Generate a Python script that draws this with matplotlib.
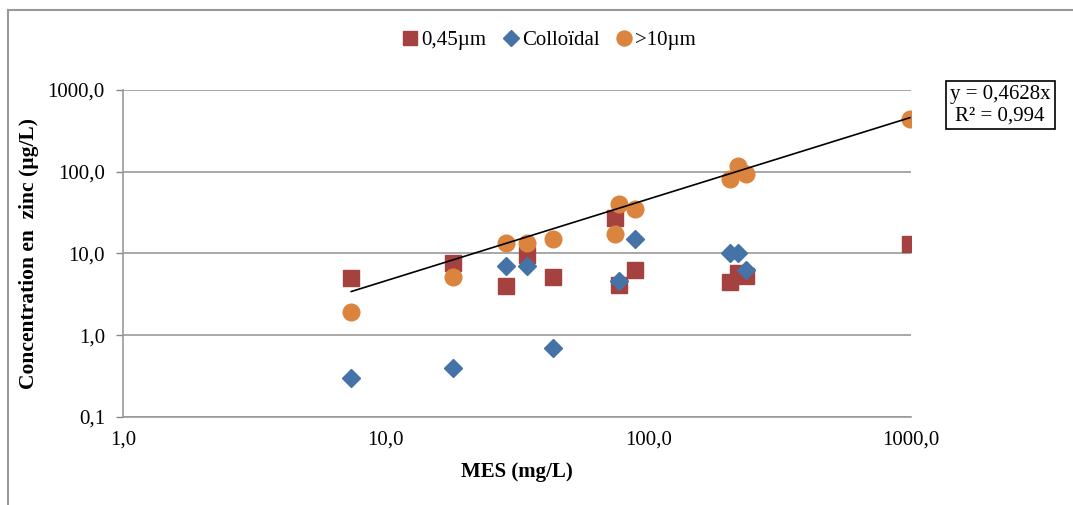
import matplotlib.pyplot as plt
from matplotlib.lines import Line2D
from matplotlib.ticker import FuncFormatter, NullLocator
import numpy as np

plt.rcParams['font.family'] = ['Liberation Serif', 'DejaVu Serif']

# MES (mg/L) for each sample
mes = [7.4, 18.0, 28.7, 34.5, 43.3, 74.6, 77.3, 89.0, 204, 219, 235, 990]
# zinc concentration (ug/L) per fraction
zn_045 = [5.0, 7.7, 4.0, 9.5, 5.2, 27.0, 4.1, 6.3, 4.5, 5.7, 5.3, 13.0]
zn_coll = [0.3, 0.4, 7.0, 7.1, 0.7, np.nan, 4.6, 15.0, 10.0, 10.0, 6.3, np.nan]
zn_10 = [1.9, 5.1, 13.5, 13.5, 15.0, 17.2, 40.0, 35.0, 81, 117, 93.5, 440]
slope = 0.4628
r2 = 0.994

fig = plt.figure(figsize=(10.73, 5.05), dpi=100)
ax = fig.add_axes([0.1146, 0.1743, 0.7344, 0.6475])

ax.plot(mes, zn_045, ls='none', marker='s', ms=11, color='#A5423F', label='0,45µm', zorder=3)
ax.plot(mes, zn_coll, ls='none', marker='D', ms=9, color='#4572A7', label='Colloïdal', zorder=4)
ax.plot(mes, zn_10, ls='none', marker='o', ms=12, color='#DB843D', label='>10µm', zorder=5)

xfit = np.array([min(mes), max(mes)])
ax.plot(xfit, slope * xfit, color='black', lw=1.2, zorder=6)

ax.set_xscale('log')
ax.set_yscale('log')
ax.set_xlim(1, 1000)
ax.set_ylim(0.1, 1000)
fmt = FuncFormatter(lambda v, p: ('%.1f' % v).replace('.', ','))
ax.xaxis.set_major_formatter(fmt)
ax.yaxis.set_major_formatter(fmt)
ax.xaxis.set_minor_locator(NullLocator())
ax.yaxis.set_minor_locator(NullLocator())
ax.set_xticks([1, 10, 100, 1000])
ax.set_yticks([0.1, 1, 10, 100, 1000])
ax.tick_params(labelsize=15, colors='#888888', labelcolor='black', length=5, width=1)
ax.tick_params(axis='x', length=0, pad=10)
ax.tick_params(axis='y', pad=8)
ax.grid(axis='y', color='#999999', lw=1.2)
for s in ['top', 'right']:
    ax.spines[s].set_visible(False)
for s in ['left', 'bottom']:
    ax.spines[s].set_color('#999999')
    ax.spines[s].set_linewidth(1.2)

ax.set_xlabel('MES (mg/L)', fontsize=15, fontweight='bold', labelpad=9)
ax.set_ylabel('Concentration en  zinc (µg/L)', fontsize=15.5, fontweight='bold', labelpad=6)

fig.legend(loc='center', bbox_to_anchor=(0.51, 0.92), ncol=3, frameon=False,
           fontsize=15, handletextpad=0.0, columnspacing=0.6, borderaxespad=0,
           handlelength=1.1, markerscale=0.9)

fig.text(0.932, 0.792, 'y = 0,4628x\nR² = 0,994', ha='center', va='center',
         fontsize=15, linespacing=1.15,
         bbox=dict(boxstyle='square,pad=0.2', fc='white', ec='black', lw=1.2))

# outer chart border (top and left visible)
fig.add_artist(Line2D([0.0075, 1], [0.98, 0.98], color='#999999', lw=1.5))
fig.add_artist(Line2D([0.0075, 0.0075], [0, 0.98], color='#999999', lw=1.5))

fig.savefig('out.png', dpi=100)
